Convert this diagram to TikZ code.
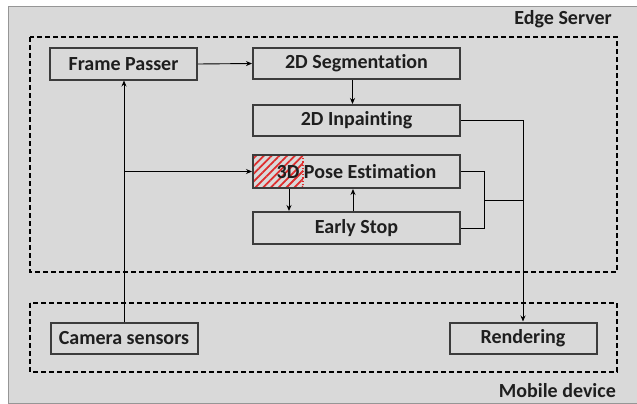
\documentclass[tikz,border=0pt]{standalone}
\usepackage{fontspec}
\setmainfont{Carlito}[Ligatures=NoCommon]
\usetikzlibrary{arrows.meta, patterns.meta}
\definecolor{bggray}{RGB}{217, 217, 217}
\definecolor{rimgray}{RGB}{150, 150, 150}
\definecolor{boxgray}{RGB}{60, 60, 60}
\definecolor{txtgray}{RGB}{30, 30, 30}
\definecolor{hatchred}{RGB}{222, 44, 44}

\begin{document}
\begin{tikzpicture}[x=1pt, y=-1pt,
  every node/.style={font=\fontsize{20}{24}\selectfont\bfseries, text=txtgray},
  blk/.style={draw=boxgray, line width=2pt, minimum width=147pt, minimum height=31pt, inner sep=0pt},
  wideblk/.style={blk, minimum width=207pt},
  region/.style={black, line width=1.8pt, dash pattern=on 5pt off 3pt},
  conn/.style={black, line width=0.9pt},
  arr/.style={conn, -{Stealth[length=6pt, width=5pt]}}]
  \useasboundingbox (0,0) rectangle (637,404);
  % Background
  \fill[bggray, draw=rimgray, line width=1pt] (8,7) rectangle (650,403);

  % Edge server
  \draw[region] (30,37) rectangle (617,272);
  \node[anchor=base east, inner sep=0pt] (edgelbl) at (612,25) {Edge Server};
  \node[blk] (passer) at (123.5,64) {Frame Passer};
  \node[wideblk] (seg) at (356.5,63.5) {2D Segmentation};
  \node[wideblk] (inpaint) at (356.5,120.5) {2D Inpainting};
  \node[wideblk, minimum height=33pt, path picture={
      \fill[pattern={Lines[angle=45, distance=5.5pt, line width=1.8pt]}, pattern color=hatchred]
        (path picture bounding box.north west) rectangle ([xshift=50pt]path picture bounding box.south west);
      \draw[hatchred, line width=1.2pt, dotted]
        ([xshift=50pt]path picture bounding box.north west) -- ([xshift=50pt]path picture bounding box.south west);
    }] (pose) at (356.5,171.5) {3D Pose Estimation};
  \node[wideblk, minimum height=32pt] (stop) at (356.5,228) {Early Stop};

  % Mobile device
  \draw[region] (30,303) rectangle (617,372);
  \node[anchor=base east, inner sep=0pt] (mobilelbl) at (616,397) {Mobile device};
  \node[blk] (camera) at (124,338.5) {Camera sensors};
  \node[blk] (render) at (523,338) {Rendering};

  % Connectors
  \coordinate (split) at (camera.north |- pose.west);
  \coordinate (merge) at (484,200);
  \draw[arr] (passer.east) -- (seg.west);
  \draw[arr] ([xshift=-4pt]seg.south) -- ([xshift=-4pt]inpaint.north);
  \draw[arr] (camera.north) -- (camera.north |- passer.south);
  \draw[arr] (split) -- (pose.west);
  \draw[arr] ([xshift=-67.5pt]pose.south) -- ([xshift=-67.5pt]stop.north);
  \draw[arr] ([xshift=-3.5pt]stop.north) -- ([xshift=-3.5pt]pose.south);
  \draw[arr] (inpaint.east) -| (render.north);
  \draw[conn] (pose.east) -| (merge);
  \draw[conn] (stop.east) -| (merge);
  \draw[conn] (merge) -- (merge -| render.north);
\end{tikzpicture}
\end{document}
